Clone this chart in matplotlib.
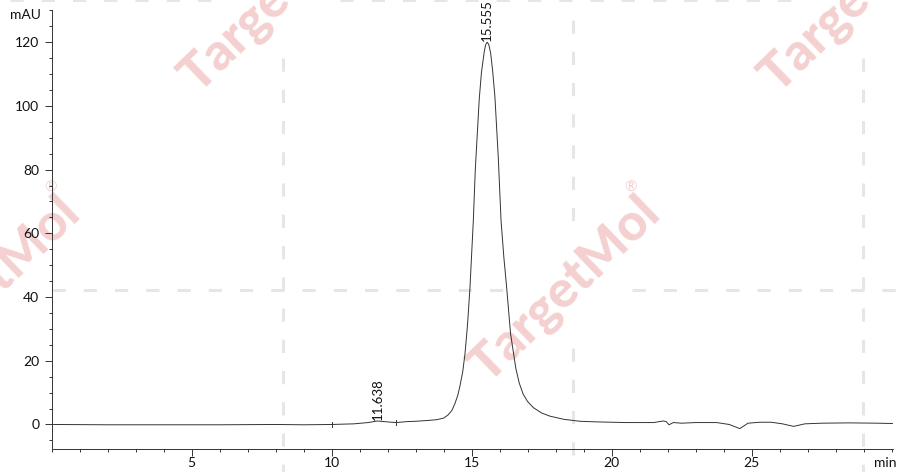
import matplotlib
matplotlib.use("Agg")
import matplotlib.pyplot as plt
from matplotlib.lines import Line2D
from matplotlib.ticker import MultipleLocator, FixedLocator

plt.rcParams['font.family'] = ['Lato', 'DejaVu Sans']
plt.rcParams['lines.scale_dashes'] = False

# ---- data ----
time_min = [0, 2, 4, 6, 8, 9, 10, 10.8, 11.3, 11.638, 12.0, 12.3, 12.7, 13.0, 13.5,
            13.75, 14.0, 14.16, 14.3, 14.4, 14.5, 14.58, 14.68, 14.76, 14.85, 14.94,
            15.06, 15.13, 15.27, 15.35, 15.45, 15.50, 15.555, 15.61, 15.68, 15.75, 15.83,
            15.95, 16.05, 16.15, 16.25, 16.39, 16.58, 16.7, 16.84, 17.0, 17.2, 17.5,
            17.8, 18.3, 18.87, 19.5, 20.5, 21.5, 21.85, 21.95, 22.05, 22.2, 22.5, 23.0,
            23.75, 24.2, 24.58, 24.87, 25.3, 25.7, 26.1, 26.5, 26.9, 27.5, 28.5, 29.5, 30.03]
signal_mau = [0.0, -0.1, -0.1, -0.1, 0.0, -0.1, 0.0, 0.2, 0.6, 1.1, 0.8, 0.6, 0.9, 1.0, 1.3,
              1.5, 2.0, 3.0, 4.5, 6.5, 9.0, 12.0, 16.5, 22.0, 31.0, 43.0,
              64.0, 80.0, 102.0, 110.5, 117.0, 119.2, 120.0, 119.3, 116.5, 111.0, 103.0,
              84.0, 64.0, 52.5, 43.0, 28.5, 17.5, 13.0, 9.5, 7.2, 5.3, 3.6,
              2.6, 1.6, 1.0, 0.8, 0.6, 0.6, 1.1, 0.9, -0.1, 0.6, 0.4, 0.6,
              0.6, 0.0, -1.3, 0.4, 0.7, 0.7, 0.2, -0.6, 0.2, 0.4, 0.5, 0.4, 0.3]

peak_times = [11.638, 15.555]
peak_heights = [1.1, 120.0]
peak_labels = ["11.638", "15.555"]

boundary_times = [10.0, 12.3]
boundary_values = [0.0, 0.6]

x_ticks = [5, 10, 15, 20, 25]
y_ticks = [0, 20, 40, 60, 80, 100, 120]

W, H = 908, 472
fig = plt.figure(figsize=(W / 100, H / 100), dpi=100)
fig.patch.set_facecolor('white')

# ---- watermark (figure background) ----
def px(x, y):
    return x / W, 1 - y / H

grid_col = '#e6e6e6'
segs = [((283, 58), (283, 472)),
        ((573, 20), (573, 227)), ((573, 348), (573, 472)),
        ((863, 58), (863, 472)),
        ((52, 290), (510, 290)), ((632, 290), (908, 290)),
        ((10, 0), (215, 0)), ((340, 0), (795, 0))]
for (x0, y0), (x1, y1) in segs:
    a = px(x0, y0); b = px(x1, y1)
    fig.add_artist(Line2D([a[0], b[0]], [a[1], b[1]], transform=fig.transFigure,
                          color=grid_col, lw=2.2, linestyle=(0, (9.5, 13)), zorder=-5))

wm_col = '#f4d0d0'
for cx, cy in [(565, 290), (-15, 290), (275, 0), (855, 0)]:
    fx, fy = px(cx, cy)
    fig.text(fx, fy, "TargetMol", rotation=44, ha='center', va='center',
             rotation_mode='anchor', fontsize=37, fontweight='black', color=wm_col, zorder=-4)
    rx, ry = px(cx + 66, cy - 102)
    fig.text(rx, ry, "®", ha='center', va='center', fontsize=11, color=wm_col, zorder=-4)

# ---- axes ----
ax = fig.add_axes([51.7 / W, (H - 449) / H, (893 - 51.7) / W, (449 - 10) / H])
ax.set_facecolor('none')
ax.plot(time_min, signal_mau, color='#333333', lw=0.7)

for t, v in zip(boundary_times, boundary_values):
    ax.plot([t, t], [v - 0.8, v + 0.8], color='#333333', lw=0.7)

for t, h, lab in zip(peak_times, peak_heights, peak_labels):
    ax.annotate(lab, (t, h), xytext=(0, 1.0), textcoords='offset points',
                rotation=90, ha='center', va='bottom', fontsize=9.5, color='#111111')

ax.set_xlim(0, 30.05)
ax.set_ylim(-7.7, 130.1)
ax.xaxis.set_major_locator(FixedLocator(x_ticks))
ax.xaxis.set_minor_locator(MultipleLocator(1))
ax.yaxis.set_major_locator(FixedLocator(y_ticks))
ax.yaxis.set_minor_locator(MultipleLocator(5))
ax.set_xticklabels([str(v) for v in x_ticks])
ax.set_yticklabels([str(v) for v in y_ticks])

for s in ['top', 'right']:
    ax.spines[s].set_visible(False)
for s in ['left', 'bottom']:
    ax.spines[s].set_color('#333333')
    ax.spines[s].set_linewidth(0.7)

ax.tick_params(axis='both', which='major', length=5, width=0.7, color='#333333',
               labelsize=10, labelcolor='#111111')
ax.tick_params(axis='x', which='major', pad=1.0)
ax.tick_params(axis='y', which='major', pad=4.0)
ax.tick_params(axis='both', which='minor', length=2.5, width=0.7, color='#333333')

fig.text(25 / W, 1 - 15 / H, "mAU", ha='center', va='center', fontsize=10, color='#111111')
fig.text(885 / W, 1 - 463 / H, "min", ha='center', va='center', fontsize=10, color='#111111')

fig.savefig("out.png", dpi=100, facecolor='white')
